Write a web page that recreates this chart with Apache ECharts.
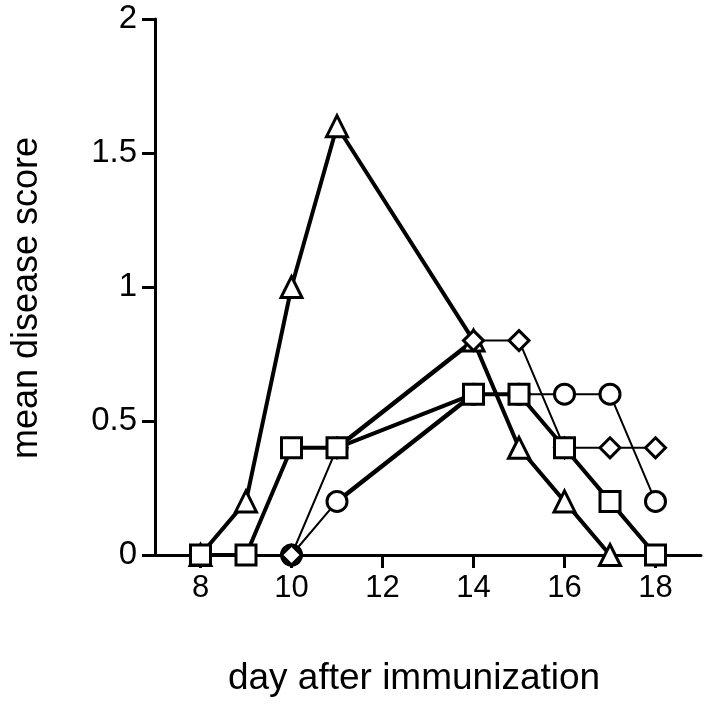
<!DOCTYPE html>
<html>
<head>
<meta charset="utf-8">
<script src="https://cdn.jsdelivr.net/npm/echarts@6/dist/echarts.min.js"></script>
<style>
html,body{margin:0;padding:0;background:#fff;}
#main{width:710px;height:720px;}
</style>
</head>
<body>
<div id="main"></div>
<script>
// day after immunization / mean disease score
var triDays = [8, 9, 10, 11, 14, 15, 16, 17];
var triScore = [0, 0.2, 1.0, 1.6, 0.8, 0.4, 0.2, 0];

var sqDays = [8, 9, 10, 11, 14, 15, 16, 17, 18];
var sqScore = [0, 0, 0.4, 0.4, 0.6, 0.6, 0.4, 0.2, 0];

var circDays = [10, 11, 14, 15, 16, 17, 18];
var circScore = [0, 0.2, 0.6, 0.6, 0.6, 0.6, 0.2];

var diaDays = [10, 11, 14, 15, 16, 17, 18];
var diaScore = [0, 0.4, 0.8, 0.8, 0.4, 0.4, 0.4];

var xTicks = [8, 10, 12, 14, 16, 18];
var yTicks = [0, 0.5, 1, 1.5, 2];

var FONT = '"Liberation Sans", Arial, Helvetica, sans-serif';

function pairs(days, vals) {
    var out = [];
    for (var i = 0; i < days.length; i++) {
        out.push([days[i], vals[i]]);
    }
    return out;
}

// main series: white markers, black outline
function line(days, vals, sym, size, w) {
    return {
        type: 'line',
        data: pairs(days, vals),
        symbol: sym,
        symbolSize: size,
        showAllSymbol: true,
        lineStyle: {color: '#000', width: w},
        itemStyle: {color: '#fff', borderColor: '#000', borderWidth: 3},
        z: 2
    };
}

// thicker stretch of a line, drawn under the markers
function seg(days, vals, from, to, w) {
    var d = [];
    for (var i = 0; i < days.length; i++) {
        if (days[i] >= from && days[i] <= to) d.push([days[i], vals[i]]);
    }
    return {
        type: 'line',
        data: d,
        showSymbol: false,
        lineStyle: {color: '#000', width: w},
        z: 1
    };
}

var chart = echarts.init(document.getElementById('main'));
var option = {
    animation: false,
    backgroundColor: '#fff',
    grid: {left: 155, right: 9, top: 19, bottom: 165},
    xAxis: {
        type: 'value',
        min: 7,
        max: 19,
        name: 'day after immunization',
        nameLocation: 'middle',
        nameGap: 105,
        nameTextStyle: {fontSize: 37, color: '#000', fontFamily: FONT, padding: [0, 28, 0, 0]},
        axisLine: {lineStyle: {color: '#000', width: 3}},
        axisTick: {customValues: xTicks, length: 13, lineStyle: {color: '#000', width: 3}},
        axisLabel: {customValues: xTicks, fontSize: 31, color: '#000', fontFamily: FONT, margin: 18},
        splitLine: {show: false}
    },
    yAxis: {
        type: 'value',
        min: 0,
        max: 2,
        interval: 0.5,
        name: 'mean disease score',
        nameLocation: 'middle',
        nameGap: 110,
        nameTextStyle: {fontSize: 36, color: '#000', fontFamily: FONT, padding: [0, 22, 0, 0]},
        axisLine: {show: true, lineStyle: {color: '#000', width: 3}},
        axisTick: {show: true, length: 13, lineStyle: {color: '#000', width: 3}},
        axisLabel: {
            fontSize: 33, color: '#000', fontFamily: FONT, margin: 18,
            formatter: function (v) { return yTicks.indexOf(v) >= 0 ? String(v) : ''; }
        },
        splitLine: {show: false}
    },
    series: [
        seg(circDays, circScore, 11, 14, 4.5),
        seg(diaDays, diaScore, 11, 14, 4.5),
        line(circDays, circScore, 'circle', 20, 2),
        line(triDays, triScore, 'triangle', 21, 4),
        line(diaDays, diaScore, 'diamond', 20, 2),
        line(sqDays, sqScore, 'rect', 20, 4)
    ]
};
chart.setOption(option);
</script>
</body>
</html>
